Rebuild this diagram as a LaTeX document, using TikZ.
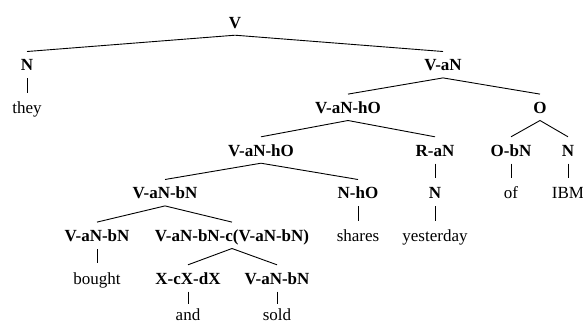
\documentclass[tikz,border=0pt]{standalone}
\usepackage{fontspec}
\setmainfont{Liberation Serif}
\begin{document}
\begin{tikzpicture}[x=1pt,y=-1pt,
  every node/.style={inner sep=0pt, text height=12pt, text depth=0pt, minimum height=26pt,
    font=\fontsize{17}{20}\selectfont},
  cat/.style={font=\fontsize{17}{20}\selectfont\bfseries},
  word/.style={},
  lastword/.style={minimum height=0pt},
  branch/.style={line width=0.9pt},
  bar/.style={line width=0.9pt, shorten <=0.5pt, shorten >=1.5pt},
  lastbar/.style={bar, shorten >=4pt}]
\useasboundingbox (0,0) rectangle (583,325);
\def\la{22}\def\lb{64.7}\def\lc{107.3}\def\ld{150}\def\le{192.7}\def\lf{235.3}\def\lg{278}\def\lh{314}
\node[cat] (V) at (235,\la) {V};
\node[cat] (N1) at (27,\lb) {N};
\node[word] (they) at (27,\lc) {they};
\node[cat] (VaN) at (443,\lb) {V-aN};
\node[cat] (VaNhO1) at (348,\lc) {V-aN-hO};
\node[cat] (O) at (540,\lc) {O};
\node[cat] (VaNhO2) at (261,\ld) {V-aN-hO};
\node[cat] (RaN) at (435,\ld) {R-aN};
\node[cat] (ObN) at (511,\ld) {O-bN};
\node[cat] (N2) at (568,\ld) {N};
\node[cat] (N3) at (435,\le) {N};
\node[word] (of) at (511,\le) {of};
\node[word] (IBM) at (568,\le) {IBM};
\node[word] (yesterday) at (435,\lf) {yesterday};
\node[cat] (VaNbN1) at (165,\le) {V-aN-bN};
\node[cat] (NhO) at (358,\le) {N-hO};
\node[word] (shares) at (358,\lf) {shares};
\node[cat] (VaNbN2) at (97,\lf) {V-aN-bN};
\node[cat] (VaNbNc) at (232,\lf) {V-aN-bN-c(V-aN-bN)};
\node[word] (bought) at (97,\lg) {bought};
\node[cat] (XcXdX) at (188,\lg) {X-cX-dX};
\node[cat] (VaNbN3) at (277,\lg) {V-aN-bN};
\node[word,lastword] (and) at (188,\lh) {and};
\node[word,lastword] (sold) at (277,\lh) {sold};
\draw[branch] (N1.north) -- (V.south) -- (VaN.north);
\draw[bar] (N1.south) -- (they.north);
\draw[branch] (VaNhO1.north) -- (VaN.south) -- (O.north);
\draw[branch] (VaNhO2.north) -- (VaNhO1.south) -- (RaN.north);
\draw[branch] (ObN.north) -- (O.south) -- (N2.north);
\draw[bar] (RaN.south) -- (N3.north);
\draw[bar] (N3.south) -- (yesterday.north);
\draw[bar] (ObN.south) -- (of.north);
\draw[bar] (N2.south) -- (IBM.north);
\draw[branch] (VaNbN1.north) -- (VaNhO2.south) -- (NhO.north);
\draw[bar] (NhO.south) -- (shares.north);
\draw[branch] (VaNbN2.north) -- (VaNbN1.south) -- (VaNbNc.north);
\draw[bar] (VaNbN2.south) -- (bought.north);
\draw[branch] (XcXdX.north) -- (VaNbNc.south) -- (VaNbN3.north);
\draw[lastbar] (XcXdX.south) -- (and.north);
\draw[lastbar] (VaNbN3.south) -- (sold.north);
\end{tikzpicture}
\end{document}
